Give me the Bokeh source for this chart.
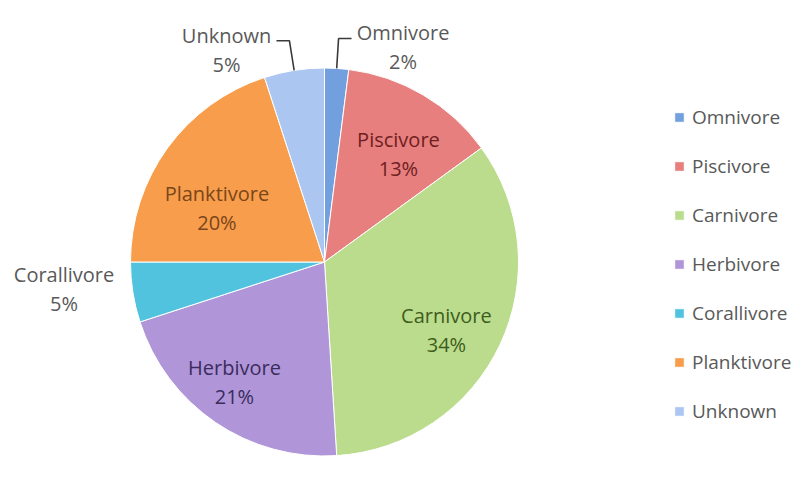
import math
from bokeh.plotting import figure
from bokeh.models import ColumnDataSource, Legend, LegendItem, Range1d
from bokeh.core.properties import value
from bokeh.embed import file_html
from bokeh.resources import INLINE

# ---- data ----
categories = ["Omnivore", "Piscivore", "Carnivore", "Herbivore", "Corallivore", "Planktivore", "Unknown"]
percents = [2, 13, 34, 21, 5, 20, 5]

# ---- styles ----
colors = ["#72a0de", "#e77f7f", "#badc8c", "#b096d8", "#52c3df", "#f79d4c", "#abc6f1"]
label_colors = ["#595959", "#6e2020", "#3f5c1c", "#3a2c5c", "#595959", "#7a461a", "#595959"]
# label placement: radius factor, angle nudge (deg); None -> outside with leader line
label_rf = [None, 0.673, 0.72, 0.775, 1.35, 0.62, None]
label_dang = [0, -3.9, -4, -2.6, -3, 9.4, 0]

W, H = 798, 494
CX, CY, R = 324, 232.5, 194
FONT = "Open Sans"
FS = "20px"
HALF_LINE = 14.5

# approximate Open Sans advance widths (em) for layout of outside labels
_cw = {"U": .73, "n": .61, "k": .53, "o": .60, "w": .80, "O": .78, "m": .93,
       "i": .26, "v": .50, "r": .41, "e": .56}


def text_w(s, px=20):
    return sum(_cw.get(c, .58) for c in s) * px


total = sum(percents)
starts, ends, mids = [], [], []
cum = 0
for v in percents:
    a0 = math.pi / 2 - 2 * math.pi * (cum + v) / total
    a1 = math.pi / 2 - 2 * math.pi * cum / total
    starts.append(a0)
    ends.append(a1)
    mids.append((a0 + a1) / 2)
    cum += v

src = ColumnDataSource(dict(name=categories, pct=percents, start=starts, end=ends,
                            color=colors, x=[CX] * len(categories), y=[CY] * len(categories)))

p = figure(width=W, height=H, output_backend="svg", toolbar_location=None,
           x_range=Range1d(0, W), y_range=Range1d(0, H), min_border=0,
           background_fill_color="white", border_fill_color="white")
p.axis.visible = False
p.grid.visible = False
p.outline_line_color = None

r = p.wedge(x="x", y="y", radius=R, start_angle="start", end_angle="end",
            direction="anticlock", fill_color="color", line_color="white", line_width=1,
            source=src)

# labels
nx, ny, px_, py_, tc = [], [], [], [], []
for i, name in enumerate(categories):
    m = mids[i]
    if label_rf[i] is None:
        # leader line: edge -> elbow -> short horizontal toward label
        ex, ey = CX + R * math.cos(m), CY + R * math.sin(m)
        bx, by = CX + (R + 30) * math.cos(m), CY + (R + 30) * math.sin(m)
        side = -1 if math.cos(m) < 0 else 1
        hx = bx + side * 13
        p.line([ex, bx, hx], [ey, by, by], line_color="#3a3a3a", line_width=1.6)
        cx = hx + side * (5 + text_w(name) / 2)
        cy = by - 9
    else:
        a = m + math.radians(label_dang[i])
        cx = CX + label_rf[i] * R * math.cos(a)
        cy = CY + label_rf[i] * R * math.sin(a)
    nx.append(cx); ny.append(cy + HALF_LINE)
    px_.append(cx); py_.append(cy - HALF_LINE)
    tc.append(label_colors[i])

lsrc = ColumnDataSource(dict(nx=nx, ny=ny, px=px_, py=py_, name=categories,
                             pct=[f"{v}%" for v in percents], tc=tc))
p.text(x="nx", y="ny", text="name", source=lsrc, text_color="tc", text_align="center",
       text_baseline="middle", text_font=value(FONT), text_font_size=FS)
p.text(x="px", y="py", text="pct", source=lsrc, text_color="tc", text_align="center",
       text_baseline="middle", text_font=value(FONT), text_font_size=FS)

legend = Legend(items=[LegendItem(label=categories[i], renderers=[r], index=i)
                       for i in range(len(categories))],
                location=(673, 70), orientation="vertical",
                glyph_width=12, glyph_height=12, label_standoff=7,
                spacing=23, padding=0, margin=0, border_line_color=None,
                background_fill_alpha=0, label_text_font=FONT,
                label_text_font_size="19px", label_text_color="#595959", label_height=22)
p.add_layout(legend, "center")

open("out.html", "w").write(file_html(p, INLINE))
